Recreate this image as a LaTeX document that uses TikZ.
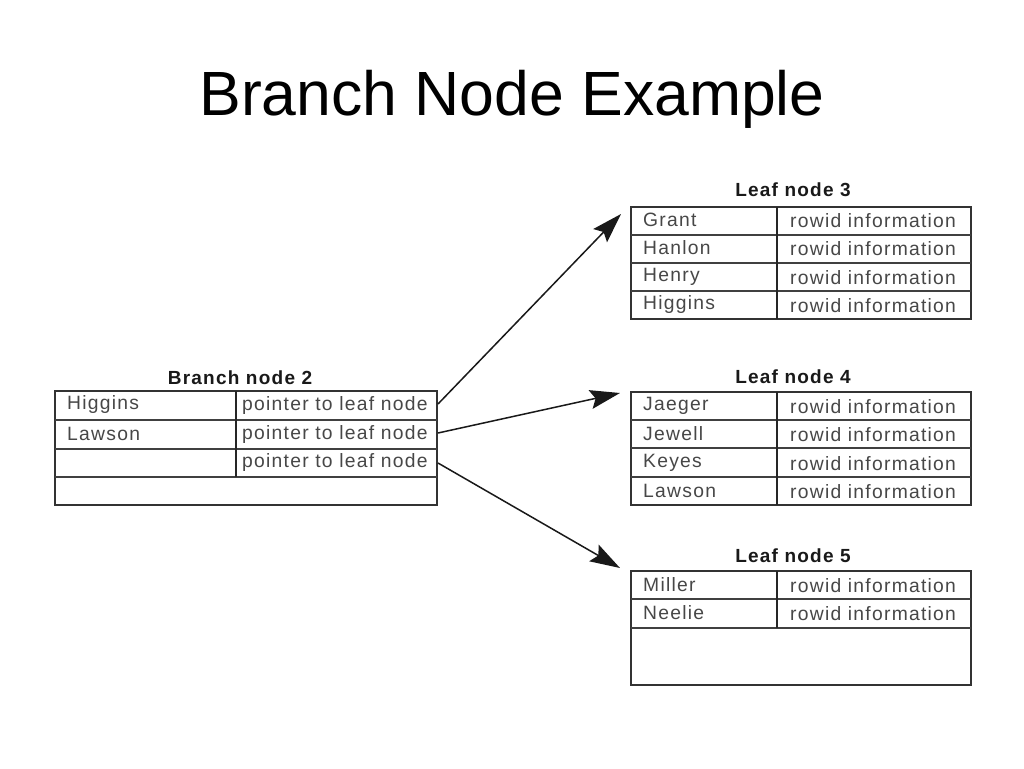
\documentclass[tikz,border=0pt]{standalone}
\usepackage{fontspec}
\setmainfont{Liberation Sans}
\newfontfamily\cellfont[LetterSpace=6.5]{Liberation Sans}
\usetikzlibrary{arrows.meta}
\begin{document}
\begin{tikzpicture}[x=1pt,y=-1pt,
  frame/.style={draw=black!80, line width=2.5pt, inner sep=0pt},
  rowline/.style={draw=black!75, line width=1.7pt},
  colline/.style={draw=black!85, line width=1.4pt},
  cell/.style={anchor=west, inner sep=0pt, font=\cellfont\fontsize{19.3}{19.3}\selectfont, text=black!72},
  hdr/.style={inner sep=0pt, font=\cellfont\fontsize{19}{19}\selectfont\bfseries, text=black!90},
  arr/.style={draw=black!90, line width=1.5pt, -{Stealth[length=30pt,width=19pt,inset=5pt]}}]
\useasboundingbox (0,0) rectangle (1024,768);
\fill[white] (0,0) rectangle (1024,768);
% title
\node[inner sep=0pt, font=\fontsize{62.5}{62.5}\selectfont] (title) at (512,99) {Branch Node Example};

% ---------- Branch node 2 ----------
\node[hdr] (bh) at (240,378) {Branch node 2};
\node[frame, minimum width=382pt, minimum height=114pt] (branch) at (246,448) {};
\draw[rowline] (55,420) -- (437,420);
\draw[rowline] (55,449) -- (437,449);
\draw[rowline] (55,477) -- (437,477);
\draw[colline] (236,391) -- (236,477);
\node[cell] (b1) at (67,405) {Higgins};
\node[cell] (b2) at (67,434) {Lawson};
\node[cell] (p1) at (242,406) {pointer to leaf node};
\node[cell] (p2) at (242,435) {pointer to leaf node};
\node[cell] (p3) at (242,463) {pointer to leaf node};

% ---------- Leaf node 3 ----------
\node[hdr] (l3h) at (793,190) {Leaf node 3};
\node[frame, minimum width=340pt, minimum height=112pt] (leaf3) at (801,263) {};
\draw[rowline] (631,235) -- (971,235);
\draw[rowline] (631,263) -- (971,263);
\draw[rowline] (631,291) -- (971,291);
\draw[colline] (777,207) -- (777,319);
\node[cell] (g1) at (643,220) {Grant};
\node[cell] (g2) at (643,248) {Hanlon};
\node[cell] (g3) at (643,277) {Henry};
\node[cell] (g4) at (643,305) {Higgins};
\foreach \y/\n in {221/1,249/2,278/3,306/4}
  \node[cell] (r3\n) at (790,\y) {rowid information};

% ---------- Leaf node 4 ----------
\node[hdr] (l4h) at (793,377) {Leaf node 4};
\node[frame, minimum width=340pt, minimum height=113pt] (leaf4) at (801,448.5) {};
\draw[rowline] (631,420) -- (971,420);
\draw[rowline] (631,448) -- (971,448);
\draw[rowline] (631,477) -- (971,477);
\draw[colline] (777,392) -- (777,505);
\node[cell] (j1) at (643,406) {Jaeger};
\node[cell] (j2) at (643,434) {Jewell};
\node[cell] (j3) at (643,463) {Keyes};
\node[cell] (j4) at (643,491) {Lawson};
\foreach \y/\n in {407/1,435/2,464/3,492/4}
  \node[cell] (r4\n) at (790,\y) {rowid information};

% ---------- Leaf node 5 ----------
\node[hdr] (l5h) at (793,556) {Leaf node 5};
\node[frame, minimum width=340pt, minimum height=114pt] (leaf5) at (801,628) {};
\draw[rowline] (631,599) -- (971,599);
\draw[rowline] (631,628) -- (971,628);
\draw[colline] (777,571) -- (777,628);
\node[cell] (m1) at (643,585) {Miller};
\node[cell] (m2) at (643,613) {Neelie};
\foreach \y/\n in {586/1,614/2}
  \node[cell] (r5\n) at (790,\y) {rowid information};

% ---------- connectors ----------
\coordinate (s1) at (438,404);
\coordinate (s2) at (438,433);
\coordinate (s3) at (438,463);
\coordinate (t3) at (621,214);
\coordinate (t4) at (620,393);
\coordinate (t5) at (620,568);
\draw[arr] (s1) -- (t3);
\draw[arr] (s2) -- (t4);
\draw[arr] (s3) -- (t5);
\end{tikzpicture}
\end{document}
